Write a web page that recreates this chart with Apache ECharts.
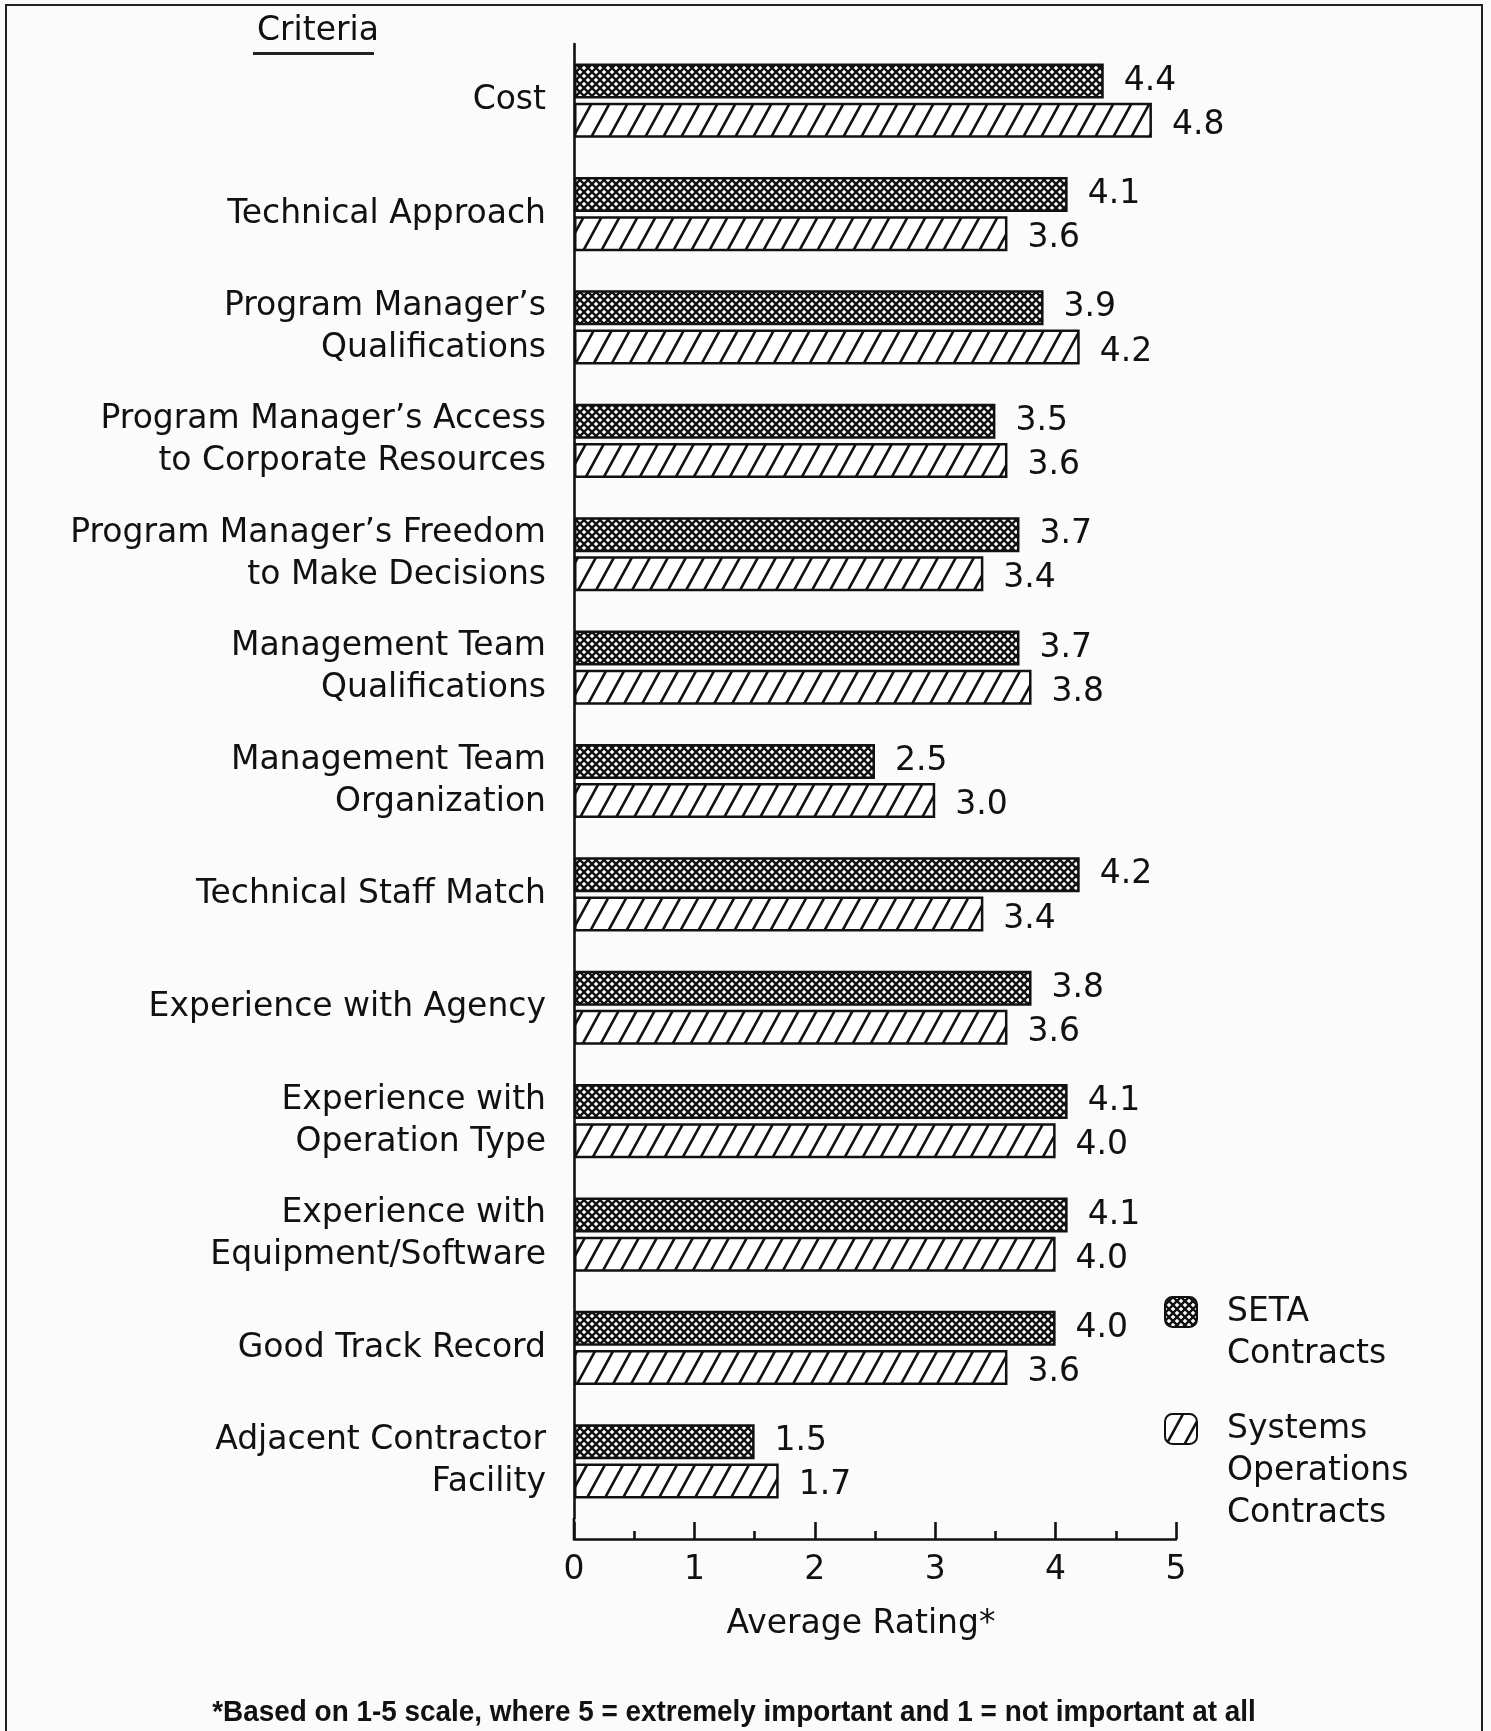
<!DOCTYPE html>
<html>
<head>
<meta charset="utf-8">
<title>Criteria ratings</title>
<script src="https://cdn.jsdelivr.net/npm/echarts@6.0.0/dist/echarts.min.js"></script>
<style>
  html, body { margin: 0; padding: 0; background: #fbfbfb; }
  #chart { width: 1491px; height: 1731px; }
</style>
</head>
<body>
<div id="chart"></div>
<script>
// criteria, top to bottom
const criteria = [
  'Cost',
  'Technical Approach',
  'Program Manager\u2019s\nQualifications',
  'Program Manager\u2019s Access\nto Corporate Resources',
  'Program Manager\u2019s Freedom\nto Make Decisions',
  'Management Team\nQualifications',
  'Management Team\nOrganization',
  'Technical Staff Match',
  'Experience with Agency',
  'Experience with\nOperation Type',
  'Experience with\nEquipment/Software',
  'Good Track Record',
  'Adjacent Contractor\nFacility'
]
const setaValues = [4.4, 4.1, 3.9, 3.5, 3.7, 3.7, 2.5, 4.2, 3.8, 4.1, 4.1, 4.0, 1.5]
const systemsValues = [4.8, 3.6, 4.2, 3.6, 3.4, 3.8, 3.0, 3.4, 3.6, 4.0, 4.0, 3.6, 1.7]
const ratingTicks = [0, 1, 2, 3, 4, 5]
const seriesNames = ['SETA Contracts', 'Systems Operations Contracts']
// leading blank lines keep the icon level with the first line of text
const legendLabels = ['\nSETA\nContracts', '\n\nSystems\nOperations\nContracts']

const font = 'DejaVu Sans'

// cross-hatch fill for SETA
function crossPattern() {
  const c = document.createElement('canvas')
  c.width = 8
  c.height = 8
  const ctx = c.getContext('2d')
  ctx.fillStyle = '#fff'
  ctx.fillRect(0, 0, 8, 8)
  ctx.strokeStyle = '#111'
  ctx.lineWidth = 2.4
  ctx.beginPath()
  ctx.moveTo(-1, -1); ctx.lineTo(9, 9)
  ctx.moveTo(-1, 9); ctx.lineTo(9, -1)
  ctx.stroke()
  return c
}

// diagonal hatch for systems operations
function hatchPattern() {
  const w = 18, h = 33
  const c = document.createElement('canvas')
  c.width = w
  c.height = h
  const ctx = c.getContext('2d')
  ctx.fillStyle = '#fff'
  ctx.fillRect(0, 0, w, h)
  ctx.strokeStyle = '#111'
  ctx.lineWidth = 2.6
  ctx.beginPath()
  ctx.moveTo(-w, 2 * h); ctx.lineTo(2 * w, -h)
  ctx.moveTo(-2 * w, 2 * h); ctx.lineTo(w, -h)
  ctx.moveTo(0, 2 * h); ctx.lineTo(3 * w, -h)
  ctx.stroke()
  return c
}

const gridLeft = 574
const gridTop = 44
const gridBottom = 213
const axisOffset = 21

const chart = echarts.init(document.getElementById('chart'))

const labelStyle = {
  show: true,
  position: 'right',
  distance: 20,
  fontFamily: font,
  fontSize: 33,
  color: '#111',
  formatter: p => p.value.toFixed(1)
}

const legendText = { fontFamily: font, fontSize: 33, lineHeight: 42, color: '#111', padding: [0, 0, 0, 25] }

const option = {
  backgroundColor: '#fbfbfb',
  animation: false,
  title: {
    text: 'Criteria',
    left: 313,
    textAlign: 'center',
    top: 10,
    textStyle: { fontFamily: font, fontSize: 33, fontWeight: 'normal', color: '#111' }
  },
  legend: [
    {
      data: [seriesNames[0]],
      orient: 'vertical',
      left: 1164,
      top: 1249,
      padding: 0,
      itemWidth: 32,
      itemHeight: 30,
      formatter: () => legendLabels[0],
      textStyle: legendText
    },
    {
      data: [seriesNames[1]],
      orient: 'vertical',
      left: 1164,
      top: 1324,
      padding: 0,
      itemWidth: 32,
      itemHeight: 30,
      formatter: () => legendLabels[1],
      textStyle: legendText
    }
  ],
  grid: {
    left: gridLeft,
    right: 315,
    top: gridTop,
    bottom: gridBottom,
    containLabel: false
  },
  xAxis: {
    type: 'value',
    min: 0,
    max: 5,
    interval: 1,
    offset: axisOffset,
    name: 'Average Rating*',
    nameLocation: 'middle',
    nameGap: 69,
    nameTextStyle: { fontFamily: font, fontSize: 33, color: '#111', padding: [0, 28, 0, 0] },
    axisLine: { show: true, lineStyle: { color: '#111', width: 2.6 } },
    axisTick: { show: true, inside: true, length: 17, lineStyle: { color: '#111', width: 2.6 } },
    minorTick: { show: true, splitNumber: 2, length: 8, lineStyle: { color: '#111', width: 2.6 } },
    splitLine: { show: false },
    axisLabel: {
      margin: 15,
      fontFamily: font,
      fontSize: 33,
      color: '#111',
      formatter: v => ratingTicks.includes(v) ? String(v) : ''
    }
  },
  yAxis: {
    type: 'category',
    data: criteria,
    inverse: true,
    axisLine: { show: true, lineStyle: { color: '#111', width: 2.6 } },
    axisTick: { show: false },
    splitLine: { show: false },
    axisLabel: {
      margin: 28,
      fontFamily: font,
      fontSize: 33,
      lineHeight: 42,
      color: '#111',
      align: 'right'
    }
  },
  series: [
    {
      name: seriesNames[0],
      type: 'bar',
      data: setaValues,
      barWidth: 35,
      barGap: '12%',
      itemStyle: {
        color: { image: crossPattern(), repeat: 'repeat' },
        borderColor: '#111',
        borderWidth: 2.5
      },
      label: labelStyle
    },
    {
      name: seriesNames[1],
      type: 'bar',
      data: systemsValues,
      barWidth: 35,
      itemStyle: {
        color: { image: hatchPattern(), repeat: 'repeat' },
        borderColor: '#111',
        borderWidth: 2.5
      },
      label: Object.assign({}, labelStyle, { offset: [0, 5] })
    }
  ],
  graphic: [
    // page frame
    {
      type: 'rect',
      shape: { x: 6, y: 5, width: 1476, height: 1800 },
      style: { fill: null, stroke: '#222', lineWidth: 2 },
      silent: true
    },
    // underline under "Criteria"
    {
      type: 'rect',
      shape: { x: 253, y: 52, width: 121, height: 3 },
      style: { fill: '#222' },
      silent: true
    },
    // left axis line continues down to the offset rating axis
    {
      type: 'line',
      shape: { x1: gridLeft, y1: 1731 - gridBottom, x2: gridLeft, y2: 1731 - gridBottom + axisOffset },
      style: { stroke: '#111', lineWidth: 2.6 },
      silent: true
    },
    // footnote, set in a narrowed face
    {
      type: 'text',
      x: 734,
      y: 1713,
      scaleX: 0.93,
      silent: true,
      style: {
        text: '*Based on 1-5 scale, where 5 = extremely important and 1 = not important at all',
        fontFamily: 'Liberation Sans',
        fontSize: 30,
        fontWeight: 'bold',
        fill: '#111',
        align: 'center',
        verticalAlign: 'middle'
      }
    }
  ]
}

chart.setOption(option)
</script>
</body>
</html>
